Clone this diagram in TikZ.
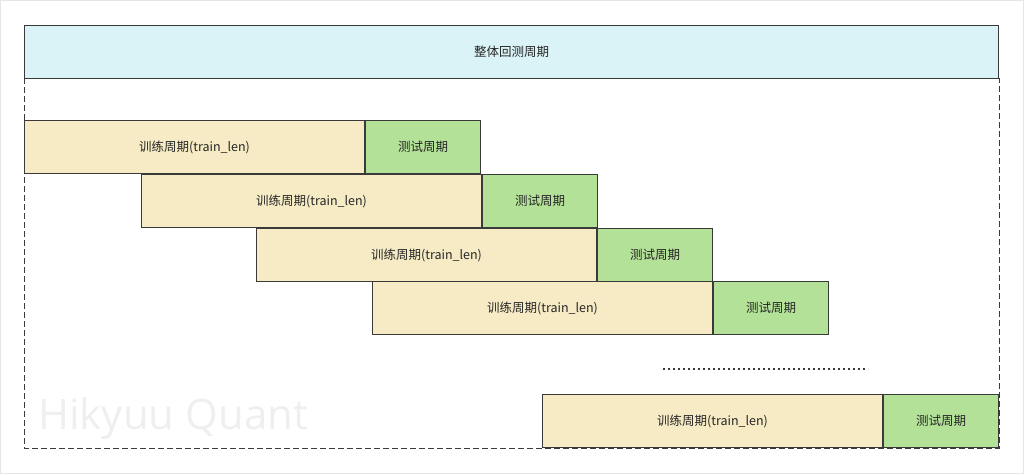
\documentclass[tikz,border=0pt]{standalone}
\usepackage{fontspec}
\setmainfont{Noto Sans CJK SC}
\newfontfamily\wmfont{Open Sans}
\definecolor{topfill}{HTML}{DAF3F6}
\definecolor{trainfill}{HTML}{F6EBC4}
\definecolor{testfill}{HTML}{B2E197}
\definecolor{edge}{HTML}{3A3A3A}
\definecolor{wm}{HTML}{EFEFEF}
\definecolor{frame}{HTML}{E6E6E6}
\begin{document}
\begin{tikzpicture}[x=1pt,y=-1pt,
  box/.style={draw=edge,line width=1pt,inner sep=0pt,anchor=north west,font=\fontsize{12.5pt}{14pt}\selectfont,text=black!85},
  trainbox/.style={box,fill=trainfill,minimum width=340pt,minimum height=53pt},
  testbox/.style={box,fill=testfill,minimum width=115pt,minimum height=53pt}]
\useasboundingbox (0,0) rectangle (1024,474);
\draw[frame,line width=1pt] (0.5,0.5) rectangle (1023.5,473.5);
\node[wm,font=\wmfont\fontsize{42pt}{46pt}\selectfont,anchor=base west,inner sep=0pt] (wmark) at (38,429) {Hikyuu Quant};
\draw[edge,dashed,dash pattern=on 6pt off 3pt,line width=1pt] (24,78) rectangle (999,448);
\node[box,fill=topfill,minimum width=974pt,minimum height=53pt] (top) at (24,25) {整体回测周期};
\node[trainbox] (tr1) at (24,120) {训练周期(train\_len)};
\node[testbox] (te1) at (tr1.north east) {测试周期};
\node[trainbox] (tr2) at (141,174) {训练周期(train\_len)};
\node[testbox] (te2) at (tr2.north east) {测试周期};
\node[trainbox] (tr3) at (256,228) {训练周期(train\_len)};
\node[testbox] (te3) at (tr3.north east) {测试周期};
\node[trainbox] (tr4) at (372,281) {训练周期(train\_len)};
\node[testbox] (te4) at (tr4.north east) {测试周期};
\coordinate (d1) at (663,369);
\coordinate (d2) at (868,369);
\draw[edge,line width=2pt,dash pattern=on 2pt off 3pt] (d1) -- (d2);
\node[trainbox] (tr5) at (542,394) {训练周期(train\_len)};
\node[testbox] (te5) at (tr5.north east) {测试周期};
\end{tikzpicture}
\end{document}
